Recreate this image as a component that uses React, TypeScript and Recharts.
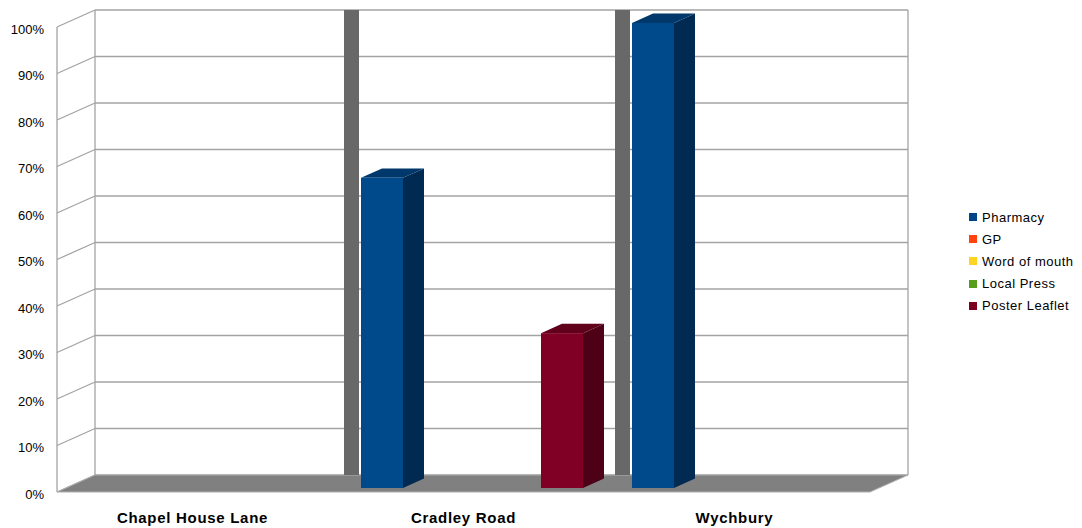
import React from "react";
import {
  BarChart,
  Bar,
  XAxis,
  YAxis,
  CartesianGrid,
  ReferenceArea,
  Legend,
} from "recharts";

// values (percent of responses per site)
const sites = ["Chapel House Lane", "Cradley Road", "Wychbury"];
const pharmacy = [0, 66.7, 100];
const gp = [0, 0, 0];
const wordOfMouth = [0, 0, 0];
const localPress = [0, 0, 0];
const posterLeaflet = [0, 33.3, 0];
const seriesNames = ["Pharmacy", "GP", "Word of mouth", "Local Press", "Poster Leaflet"];
const yTicks = [0, 10, 20, 30, 40, 50, 60, 70, 80, 90, 100];

const data = sites.map((name, i) => ({
  name,
  pharmacy: pharmacy[i],
  gp: gp[i],
  wordOfMouth: wordOfMouth[i],
  localPress: localPress[i],
  posterLeaflet: posterLeaflet[i],
}));

const FONT = "'Liberation Sans', Arial, sans-serif";

// 3d offsets relative to the plane the bar fronts sit on
const FRONT_DX = -9;
const FRONT_DY = 4;
const BACK_DX = 29;
const BACK_DY = -13;
const BAR_DX = 21;
const BAR_DY = -9.4;

const GRID = "#a3a3a3";

const make3DBar = (front: string, side: string, top: string) => (props: any) => {
  const { x, y, width, height } = props;
  if (!height || height <= 0) return <g />;
  return (
    <g>
      <polygon
        points={`${x + width},${y} ${x + width + BAR_DX},${y + BAR_DY} ${x + width + BAR_DX},${y + height + BAR_DY} ${x + width},${y + height}`}
        fill={side}
      />
      <polygon
        points={`${x},${y} ${x + BAR_DX},${y + BAR_DY} ${x + width + BAR_DX},${y + BAR_DY} ${x + width},${y}`}
        fill={top}
      />
      <rect x={x} y={y} width={width} height={height} fill={front} />
    </g>
  );
};

const gridLine = (props: any) => {
  const { x1, x2, y1, index } = props;
  return (
    <g key={`g-${index}-${y1}`}>
      <line x1={x1 + BACK_DX} y1={y1 + BACK_DY} x2={x2 + BACK_DX} y2={y1 + BACK_DY} stroke={GRID} strokeWidth={1.3} />
      <line x1={x1 + FRONT_DX} y1={y1 + FRONT_DY} x2={x1 + BACK_DX} y2={y1 + BACK_DY} stroke={GRID} strokeWidth={1.3} />
    </g>
  );
};

const frame = (props: any) => {
  const { x, y, width, height } = props;
  const bottom = y + height;
  const right = x + width;
  return (
    <g>
      <polygon
        points={`${x + FRONT_DX},${bottom + FRONT_DY} ${x + BACK_DX},${bottom + BACK_DY} ${right + BACK_DX},${bottom + BACK_DY} ${right + FRONT_DX},${bottom + FRONT_DY}`}
        fill="#808080"
        stroke="#b0b0b0"
        strokeWidth={1}
      />
      <line x1={x + FRONT_DX} y1={y + FRONT_DY} x2={x + FRONT_DX} y2={bottom + FRONT_DY} stroke={GRID} strokeWidth={1.3} />
      <line x1={x + BACK_DX} y1={y + BACK_DY} x2={x + BACK_DX} y2={bottom + BACK_DY} stroke={GRID} strokeWidth={1.3} />
      <line x1={right + BACK_DX} y1={y + BACK_DY} x2={right + BACK_DX} y2={bottom + BACK_DY} stroke={GRID} strokeWidth={1.3} />
    </g>
  );
};

const separator = (props: any) => {
  const { x, y, height } = props;
  return <rect x={x + 7} y={y + BACK_DY} width={15} height={height} fill="#686868" />;
};

const YTick = (props: any) => {
  const { y, payload } = props;
  return (
    <text x={44} y={y + FRONT_DY + 2} textAnchor="end" dominantBaseline="central" fontSize={13} fontFamily={FONT} fill="#000">
      {payload.value}%
    </text>
  );
};

const XTick = (props: any) => {
  const { x, payload } = props;
  return (
    <text x={x + FRONT_DX} y={517} textAnchor="middle" dominantBaseline="central" fontSize={15} fontWeight="bold" letterSpacing={0.7} fontFamily={FONT} fill="#000">
      {payload.value}
    </text>
  );
};

const LegendList = (props: any) => {
  const { payload = [] } = props;
  const items = [...payload].sort(
    (a: any, b: any) => seriesNames.indexOf(a.value) - seriesNames.indexOf(b.value)
  );
  return (
    <div style={{ fontFamily: FONT, fontSize: 13, color: "#000" }}>
      {items.map((entry: any) => (
        <div key={entry.value} style={{ display: "flex", alignItems: "center", height: 22.2, whiteSpace: "nowrap", letterSpacing: 0.5 }}>
          <span style={{ display: "inline-block", width: 8, height: 8, background: entry.color, marginRight: 5 }} />
          {entry.value}
        </div>
      ))}
    </div>
  );
};

export default function App() {
  return (
    <div style={{ position: "absolute", left: 0, top: 0, width: 1082, height: 528, background: "#fff" }}>
      <BarChart
        width={1082}
        height={528}
        data={data}
        margin={{ top: 23, right: 203, left: 0, bottom: 0 }}
        barCategoryGap={24}
        barGap={3}
      >
        <CartesianGrid horizontal={gridLine} vertical={false} />
        <ReferenceArea y1={0} y2={100} shape={frame} ifOverflow="visible" zIndex={-60} />
        <ReferenceArea x1="Cradley Road" x2="Cradley Road" y1={0} y2={100} shape={separator} ifOverflow="visible" zIndex={-50} />
        <ReferenceArea x1="Wychbury" x2="Wychbury" y1={0} y2={100} shape={separator} ifOverflow="visible" zIndex={-50} />
        <XAxis dataKey="name" height={40} axisLine={false} tickLine={false} tick={XTick} interval={0} />
        <YAxis width={66} domain={[0, 100]} ticks={yTicks} axisLine={false} tickLine={false} tick={YTick} />
        <Legend
          layout="vertical"
          align="center"
          verticalAlign="middle"
          content={LegendList}
          wrapperStyle={{ left: 969, top: 206, width: 113 }}
        />
        <Bar dataKey="pharmacy" name={seriesNames[0]} fill="#004586" shape={make3DBar("#004a8c", "#002a52", "#00386b")} isAnimationActive={false} />
        <Bar dataKey="gp" name={seriesNames[1]} fill="#ff420e" shape={make3DBar("#ff420e", "#a82a08", "#d0360b")} isAnimationActive={false} />
        <Bar dataKey="wordOfMouth" name={seriesNames[2]} fill="#ffd320" shape={make3DBar("#ffd320", "#a88a14", "#d0ac1a")} isAnimationActive={false} />
        <Bar dataKey="localPress" name={seriesNames[3]} fill="#579d1c" shape={make3DBar("#579d1c", "#386612", "#478017")} isAnimationActive={false} />
        <Bar dataKey="posterLeaflet" name={seriesNames[4]} fill="#7e0021" shape={make3DBar("#800025", "#4e0017", "#60001b")} isAnimationActive={false} />
      </BarChart>
    </div>
  );
}
